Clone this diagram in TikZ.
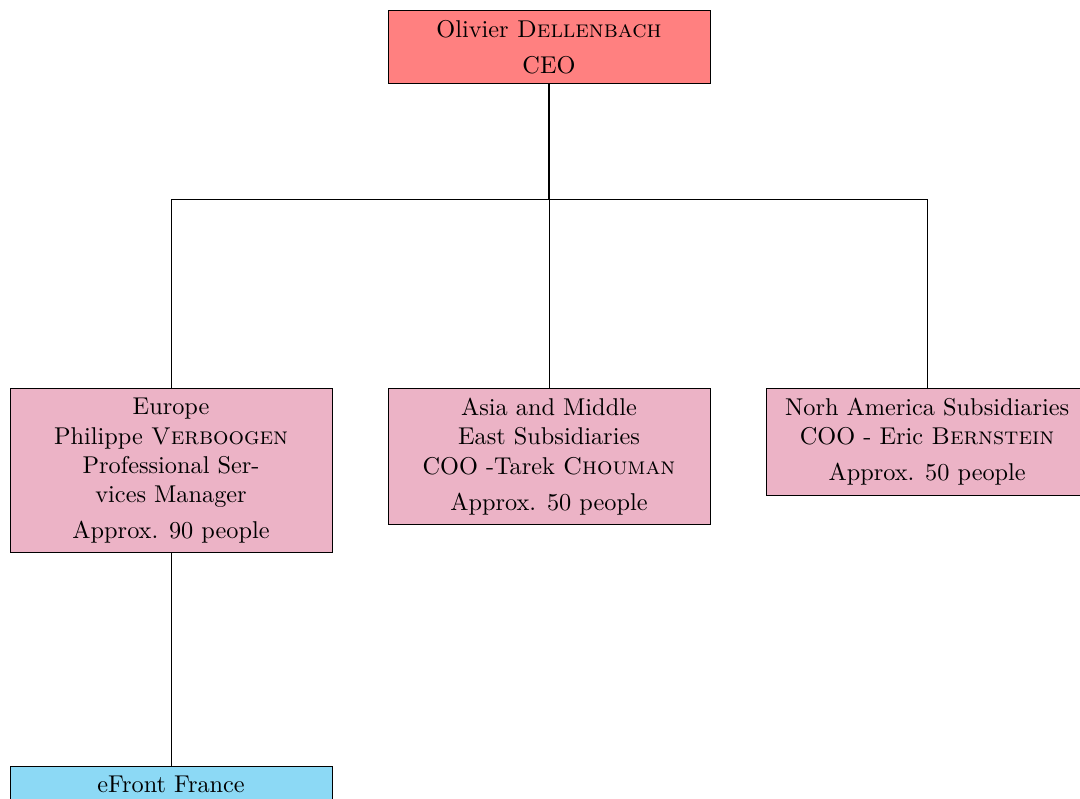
\documentclass[tikz,border=0pt]{standalone}
\usetikzlibrary{positioning}
\definecolor{ceofill}{RGB}{255,128,128}
\definecolor{regionfill}{RGB}{236,179,198}
\definecolor{branchfill}{RGB}{140,217,245}
\begin{document}
\begin{tikzpicture}[
  x=1pt, y=1pt,
  orgbox/.style={draw=black, line width=0.4pt, anchor=north, align=center,
    minimum width=132.5pt, inner sep=4pt, font=\normalsize},
  ceobox/.style={orgbox, fill=ceofill},
  regionbox/.style={orgbox, fill=regionfill},
  branchbox/.style={orgbox, fill=branchfill},
  link/.style={draw=black, line width=0.4pt},
  trunk/.style={draw=black, line width=0.7pt}
]
\useasboundingbox (0,0) rectangle (444.4,-328.4);
\begin{scope}
\clip (0,0) rectangle (444.4,-328.4);

\node[ceobox] (ceo) at (225.9,-4.1)
  {Olivier \textsc{Dellenbach}\\[2.8pt] CEO};

\node[regionbox] (eu) at (70.4,-159.7)
  {Europe\\ Philippe \textsc{Verboogen}\\ Professional Ser-\\ vices Manager\\[2.8pt] Approx. 90 people};
\node[regionbox] (asia) at (225.9,-159.7)
  {Asia and Middle\\ East Subsidiaries\\ COO -Tarek \textsc{Chouman}\\[2.8pt] Approx. 50 people};
\node[regionbox] (na) at (381.5,-159.7)
  {Norh America Subsidiaries\\ COO - Eric \textsc{Bernstein}\\[2.8pt] Approx. 50 people};

\node[branchbox] (fr) at (70.4,-315.2) {eFront France};

% CEO down to the common bar
\coordinate (bar) at ([yshift=-47.4pt]ceo.south);
\draw[trunk] (ceo.south) -- (bar);

% bar out to the three regions
\draw[link] (bar) -| (eu.north);
\draw[link] (bar) -- (asia.north);
\draw[link] (bar) -| (na.north);

% Europe to its French branch
\draw[link] (eu.south) -- (fr.north);
\end{scope}
\end{tikzpicture}
\end{document}
